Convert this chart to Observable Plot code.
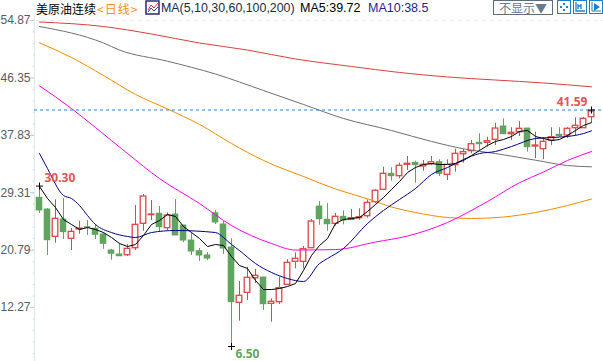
<!DOCTYPE html>
<html><head><meta charset="utf-8">
<script src="https://cdn.jsdelivr.net/npm/d3@7"></script>
<script src="https://cdn.jsdelivr.net/npm/@observablehq/plot@0.6"></script>
<style>
html,body{margin:0;padding:0;background:#fff;overflow:hidden}
#wrap{position:relative;width:603px;height:361px;font-family:"Liberation Sans",Arial,sans-serif}
#wrap>svg{position:absolute;left:0;top:0}
.h{position:absolute;top:1px;line-height:15px;white-space:nowrap;font-size:12px}
.cjk{font-family:"Noto Sans CJK SC",sans-serif}
</style></head><body><div id="wrap"></div>
<script>
const open=[28.56,26.82,22.77,25.34,22.48,23.86,24.20,23.96,23.11,20.74,20.15,20.04,21.08,24.70,25.98,26.19,24.05,26.08,24.45,22.22,20.64,20.00,26.27,24.60,21.19,12.98,14.46,16.63,16.73,12.83,13.07,15.65,19.06,19.06,21.08,27.27,25.30,24.70,25.74,25.30,25.53,25.83,27.91,29.75,32.12,31.77,33.46,33.75,33.21,33.55,33.84,31.97,33.40,35.03,35.48,36.72,36.72,37.17,39.14,38.00,38.30,38.84,36.17,35.77,37.06,37.91,37.81,38.89,38.89,40.52];
const close=[26.68,22.27,25.44,23.46,23.51,24.00,24.11,23.07,21.73,20.25,19.89,20.99,24.55,28.75,26.08,24.20,25.93,22.97,22.22,20.59,20.00,19.55,24.90,21.04,13.07,14.02,16.69,16.99,12.77,13.13,15.15,18.91,19.51,20.93,25.04,25.38,24.64,25.74,25.19,25.53,25.68,27.82,29.60,32.12,31.77,33.31,33.61,33.40,33.46,33.84,32.12,33.46,35.09,35.33,36.51,36.51,36.96,38.84,38.00,38.21,38.80,36.07,36.32,36.87,37.55,37.70,38.80,39.25,40.28,41.37];
const high=[30.30,26.97,28.26,28.46,24.00,25.09,25.19,24.60,23.37,20.89,21.82,21.63,27.42,29.05,28.16,27.27,26.33,28.31,24.45,23.26,21.04,20.44,26.68,25.09,22.48,16.14,18.26,17.92,16.73,13.57,16.78,19.40,20.40,21.33,25.34,28.01,27.71,26.23,26.63,26.82,26.93,28.26,29.75,33.10,33.01,33.70,34.69,33.99,34.10,34.69,34.20,34.20,35.77,35.77,37.06,38.06,37.55,39.63,40.28,38.95,39.88,38.84,38.30,37.51,38.95,38.95,38.99,40.43,40.48,41.59];
const low=[26.23,20.00,21.82,22.37,20.74,23.16,22.97,22.37,20.93,19.30,19.89,19.85,20.74,23.60,25.19,23.56,23.71,22.97,21.92,20.00,19.11,19.26,24.60,20.15,6.50,10.25,13.32,15.84,11.84,10.10,12.73,15.55,18.02,18.02,21.04,24.49,23.60,24.35,24.55,25.19,25.24,25.53,27.67,29.64,31.02,31.38,32.61,30.73,32.51,33.31,31.72,31.13,32.36,33.70,35.09,35.48,36.07,36.32,38.00,37.06,37.66,35.33,34.35,34.24,36.32,37.55,37.36,37.70,38.84,39.73];

const ma5=[30.24,28.46,27.12,25.34,24.60,23.86,24.15,23.86,23.41,22.67,21.78,21.33,21.63,22.97,24.60,25.19,26.08,25.79,24.30,23.41,22.52,21.33,21.63,21.48,19.85,18.51,18.07,16.29,14.95,14.95,15.10,15.40,15.84,17.77,20.00,21.48,22.52,24.75,25.34,25.49,25.64,26.53,27.57,28.60,29.79,30.98,32.31,33.06,33.50,33.65,33.50,33.50,33.65,34.10,34.84,35.58,36.32,36.92,37.21,37.66,38.40,38.55,37.66,37.36,37.06,37.21,37.81,38.55,39.29,39.72];
const ma10Day=[0,1,3,4,5,6,7,9,11,12,14,17,22,23,24,25,27,29,31,33,35,36,38,41,43,45,47,49,51,53,55,57,59,62,64,66,68,69];
const ma10=[35.13,32.91,28.90,28.46,27.42,25.93,24.60,23.41,22.82,22.67,23.41,23.71,23.41,22.67,21.63,20.74,18.81,17.48,16.58,16.14,18.81,19.55,21.04,24.75,26.68,28.31,29.94,32.02,33.06,34.25,35.13,35.43,36.17,37.36,37.51,37.66,38.10,38.50];
const ma30Day=[0,4,7,11,15,20,24,29,32,37,42,46,51,56,60,63,66,69];
const ma30=[45.18,41.81,38.99,35.13,31.42,27.71,24.45,21.78,20.81,20.88,22.00,22.89,24.90,28.01,30.80,32.39,34.10,35.43];
const ma60Day=[0,4,8,12,16,20,24,28,33,37,41,44,47,51,54,58,62,66,69];
const ma60=[51.56,49.38,46.71,43.90,41.74,39.45,36.62,34.10,31.72,29.87,28.41,27.20,26.38,25.64,25.49,25.71,26.38,27.42,28.38];
const ma100Day=[0,8,10,16,22,28,33,38,44,49,53,57,62,66,69];
const ma100=[53.98,51.53,50.49,48.83,46.93,44.48,42.41,40.33,38.55,36.92,35.83,35.13,34.14,33.35,33.16];
const ma200Day=[0,8,14,20,26,32,39,45,51,57,63,69];
const ma200=[54.65,53.98,52.87,51.53,50.49,49.16,48.05,47.16,46.49,46.04,45.60,45.03];

const yTicks=[54.87,46.35,37.83,29.31,20.79,12.27];
const minorTicks=d3.range(-1,41).map(k=>54.87-k*1.704).filter(v=>v>4.6&&v<55.6);
const annotations=[
  {day:0,price:30.30,label:"30.30"},
  {day:69,price:41.59,label:"41.59"},
  {day:24,price:6.50,label:"6.50"}
];

const RED="#e04545",GREEN="#5fa55f";
const candles=open.map((o,i)=>({day:i,open:o,close:close[i],high:high[i],low:low[i],up:close[i]>=o}));
const up=candles.filter(d=>d.up),down=candles.filter(d=>!d.up);
const pts=(ds,vs)=>vs.map((v,i)=>({day:ds?ds[i]:i,v}));
const line=(ds,vs,stroke,curve="monotone-x")=>Plot.line(pts(ds,vs),{x:"day",y:"v",stroke,strokeWidth:1,curve});

const chart=Plot.plot({
  width:603,height:361,
  marginLeft:34,marginRight:0,marginTop:0,marginBottom:0,
  style:{background:"transparent"},
  x:{type:"linear",domain:[-0.625,70.5],axis:null},
  y:{type:"linear",domain:[57.84,4.27],range:[0,361],axis:null},
  marks:[
    Plot.ruleX([-0.625],{y1:55.8,y2:4.27,stroke:"#dfe9ee"}),
    Plot.ruleY([54.87],{stroke:"#e9eeee",strokeDasharray:"4,4"}),
    Plot.axisY({anchor:"left",ticks:minorTicks,tickSize:1,stroke:"#c3d2da",text:null,label:null}),
    Plot.axisY({anchor:"left",ticks:yTicks,tickSize:4,tickPadding:0,stroke:"#b9ccd6",label:null,tickFormat:d=>d.toFixed(2),fill:"#555c66",fontSize:12,fontFamily:"Liberation Sans, Arial, sans-serif"}),
    Plot.ruleX(down,{x:"day",y1:"low",y2:"high",stroke:GREEN}),
    Plot.ruleX(up,{x:"day",y1:"low",y2:"high",stroke:RED}),
    Plot.rect(down,{x1:d=>d.day-0.41,x2:d=>d.day+0.41,y1:"open",y2:"close",fill:GREEN,insetTop:-0.5,insetBottom:-0.5}),
    Plot.rect(up,{x1:d=>d.day-0.35,x2:d=>d.day+0.35,y1:"open",y2:"close",fill:"#fff",stroke:RED,strokeWidth:1.3}),
    line(ma200Day,ma200,"#d8403c"),
    line(ma100Day,ma100,"#6f6f6f"),
    line(ma60Day,ma60,"#f58a00"),
    line(ma30Day,ma30,"#ff00f0"),
    line(ma10Day,ma10,"#00008c"),
    line(null,ma5,"#000000","linear"),
    Plot.ruleY([41.59],{stroke:"#1a86ee",strokeDasharray:"3,3"}),
    Plot.dot(annotations,{x:"day",y:"price",symbol:"plus",r:2.4,stroke:"#000",strokeWidth:1}),
    Plot.text([annotations[0]],{x:"day",y:"price",text:"label",textAnchor:"start",dx:5,dy:-8,fill:"#e05555",fontSize:12,fontWeight:"bold"}),
    Plot.text([annotations[1]],{x:"day",y:"price",text:"label",textAnchor:"end",dx:-4,dy:-8,fill:"#e05555",fontSize:12,fontWeight:"bold"}),
    Plot.text([annotations[2]],{x:"day",y:"price",text:"label",textAnchor:"start",dx:4,dy:8,fill:"#5fa55f",fontSize:12,fontWeight:"bold"})
  ]
});
const wrap=document.getElementById("wrap");
wrap.appendChild(chart);
const head=[
 '<span class="h cjk" style="left:36px;color:#000">美原油连续</span>',
 '<span class="h cjk" style="left:97px;color:#ff8c1a;letter-spacing:1px">&lt;日线&gt;</span>',
 '<span class="h" style="left:161px;color:#1a2a4a;font-size:12.4px">MA(5,10,30,60,100,200)</span>',
 '<span class="h" style="left:300px;color:#000;font-size:12.5px">MA5:39.72</span>',
 '<span class="h" style="left:368px;color:#2a1a9a;font-size:12.5px">MA10:38.5</span>',
 '<span class="h cjk" style="left:493px;top:0;width:58px;height:13px;line-height:13px;border:1px solid #5d6d7d;color:#6a7a8a;text-align:center;font-size:12px">不显示▼</span>'
].join("");
wrap.insertAdjacentHTML("beforeend",head);
wrap.insertAdjacentHTML("beforeend",`
<svg width="16" height="16" style="left:145px;top:0" viewBox="0 0 16 16"><rect x="1" y="1" width="13" height="13" fill="#fff" stroke="#1a1a6a" stroke-width="1.4"/><path d="M3 10L6 5L9 8L13 3" fill="none" stroke="#e03030"/><path d="M3 12L6 8L9 11L13 7" fill="none" stroke="#2040c0"/></svg>
<svg width="15" height="15" style="left:557px;top:0" viewBox="0 0 15 15"><rect x="0.5" y="0.5" width="13" height="13" fill="#fff" stroke="#1d80c8"/><path d="M7 3v2M7 9v2M3 7h2M9 7h2" stroke="#1d80c8" stroke-width="2"/></svg>
<svg width="15" height="15" style="left:573px;top:0" viewBox="0 0 15 15"><rect x="0.5" y="0.5" width="13" height="13" fill="#fff" stroke="#1d80c8"/><path d="M3 2v9h9M5 4v5M8 4v5M5 6h3" fill="none" stroke="#1d80c8" stroke-width="1.3"/></svg>
<svg width="15" height="15" style="left:589px;top:0" viewBox="0 0 15 15"><rect x="0.5" y="0.5" width="13" height="13" fill="#fff" stroke="#1d80c8"/><path d="M3 2v9h9" fill="none" stroke="#1d80c8"/><path d="M5 3l6 4-6 4z" fill="#1d80c8"/></svg>`);
</script></body></html>
